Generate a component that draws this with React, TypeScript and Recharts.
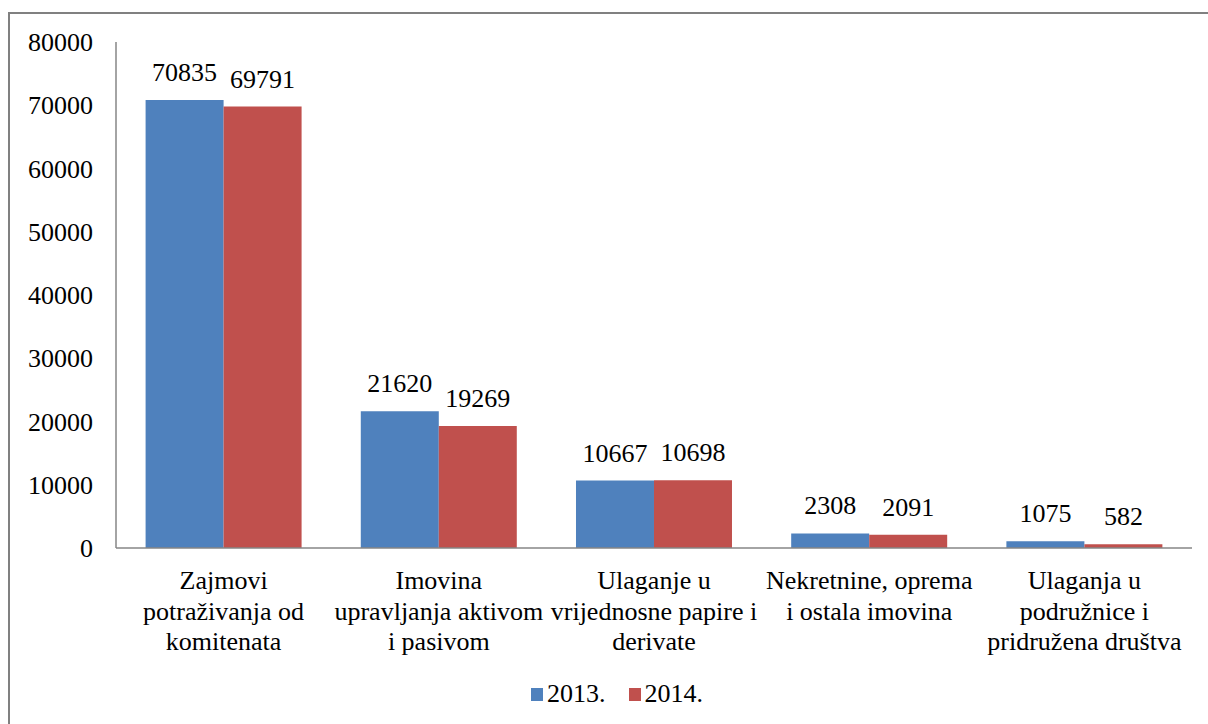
import { BarChart, Bar, XAxis, YAxis, LabelList } from "recharts"

const categories = [
  "Zajmovi\npotraživanja od\nkomitenata",
  "Imovina\nupravljanja aktivom\ni pasivom",
  "Ulaganje u\nvrijednosne papire i\nderivate",
  "Nekretnine, oprema\ni ostala imovina",
  "Ulaganja u\npodružnice i\npridružena društva",
]
const values2013 = [70835, 21620, 10667, 2308, 1075]
const values2014 = [69791, 19269, 10698, 2091, 582]
const yTicks = [0, 10000, 20000, 30000, 40000, 50000, 60000, 70000, 80000]

const series = [
  { key: "y2013", name: "2013.", color: "#4F81BD" },
  { key: "y2014", name: "2014.", color: "#C0504D" },
]

const data = categories.map((c, i) => ({
  name: c,
  y2013: values2013[i],
  y2014: values2014[i],
}))

const FONT = "Liberation Serif, serif"
const AXIS = "#868686"

function CategoryTick(props: any) {
  const { x, y, payload } = props
  const lines = String(payload.value).split("\n")
  return (
    <text x={x} y={y} textAnchor="middle" fontFamily={FONT} fontSize={26} fill="#000">
      {lines.map((l, i) => (
        <tspan key={i} x={x} dy={i === 0 ? 20 : 30.5}>
          {l}
        </tspan>
      ))}
    </text>
  )
}

export default function App() {
  return (
    <div
      style={{
        position: "absolute",
        left: 0,
        top: 0,
        width: 1208,
        height: 724,
        overflow: "hidden",
        background: "#fff",
        fontFamily: FONT,
      }}
    >
      <div
        style={{
          position: "absolute",
          left: 8,
          top: 12,
          width: 1400,
          height: 900,
          border: "2.5px solid #808080",
        }}
      />
      <div style={{ position: "absolute", left: 0, top: 0 }}>
        <BarChart
          width={1208}
          height={724}
          data={data}
          margin={{ top: 42, right: 16, left: 0, bottom: 0 }}
          barCategoryGap="13.75%"
          barGap={0}
          style={{ fontFamily: FONT }}
        >
          <XAxis
            dataKey="name"
            height={176}
            interval={0}
            tickLine={false}
            tickSize={0}
            tickMargin={21}
            axisLine={{ stroke: AXIS, strokeWidth: 1.5 }}
            tick={<CategoryTick />}
          />
          <YAxis
            width={116}
            domain={[0, 80000]}
            ticks={yTicks}
            interval={0}
            tickLine={false}
            tickSize={0}
            tickMargin={23}
            axisLine={{ stroke: AXIS, strokeWidth: 1.5 }}
            tick={{ fontFamily: FONT, fontSize: 26, fill: "#000" }}
          />
          {series.map((s) => (
            <Bar key={s.key} dataKey={s.key} name={s.name} fill={s.color} isAnimationActive={false}>
              <LabelList
                dataKey={s.key}
                position="top"
                offset={19}
                fontFamily={FONT}
                fontSize={26}
                fill="#000"
              />
            </Bar>
          ))}
        </BarChart>
      </div>
      <div
        style={{
          position: "absolute",
          left: 531,
          top: 679,
          display: "flex",
          alignItems: "center",
          fontFamily: FONT,
          fontSize: 26,
          color: "#000",
          lineHeight: "30px",
        }}
      >
        {series.map((s, i) => (
          <div key={s.key} style={{ display: "flex", alignItems: "center", marginLeft: i === 0 ? 0 : 23 }}>
            <div style={{ width: 12, height: 13, background: s.color, marginRight: 4 }} />
            <span>{s.name}</span>
          </div>
        ))}
      </div>
    </div>
  )
}
